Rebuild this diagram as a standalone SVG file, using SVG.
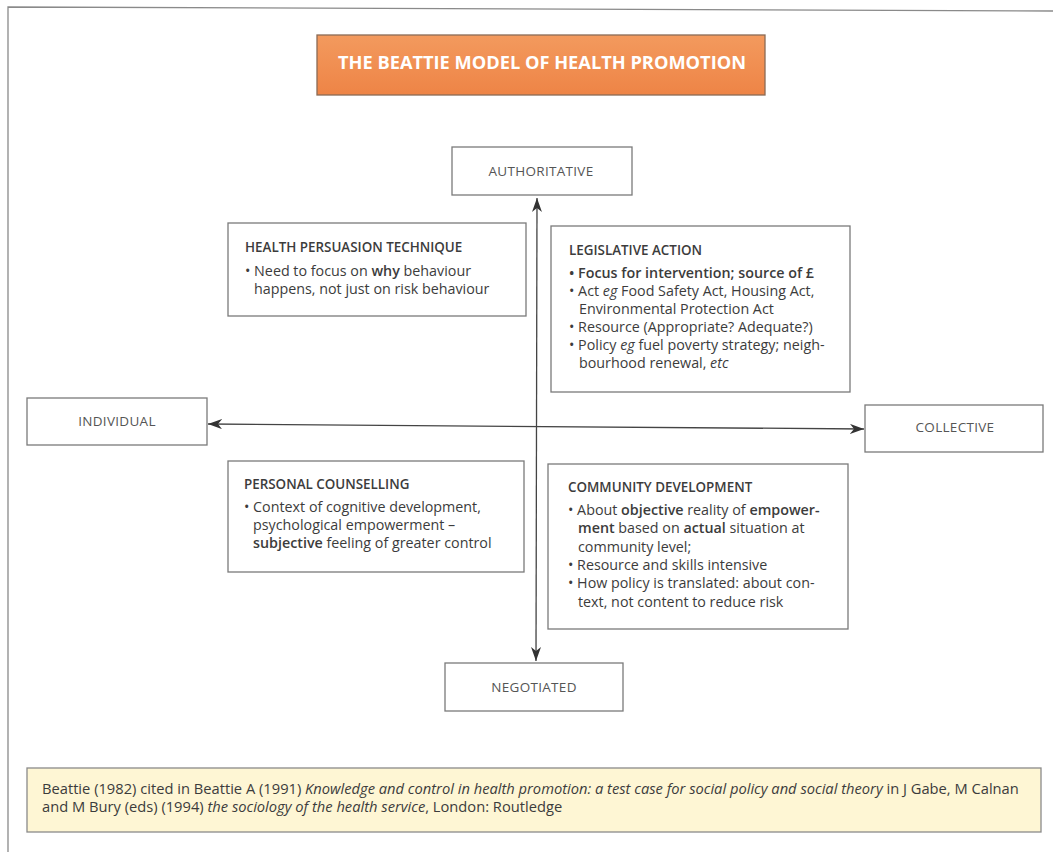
<svg xmlns="http://www.w3.org/2000/svg" width="1053" height="852" viewBox="0 0 1053 852">
<defs>
<marker id="ah" viewBox="0 0 14 10" refX="14" refY="5" markerWidth="14" markerHeight="10" markerUnits="userSpaceOnUse" orient="auto-start-reverse">
<path d="M0,0 L14,5 L0,10 L4,5 Z" fill="#333"/>
</marker>
<linearGradient id="og" x1="0" y1="0" x2="0" y2="1">
<stop offset="0" stop-color="#F39A5E"/>
<stop offset="1" stop-color="#EE8446"/>
</linearGradient>
</defs>
<style>
.bx{fill:#fff;stroke:#7a7a7a;stroke-width:1.3}
.t{font-family:"Open Sans","Noto Sans",sans-serif;fill:#3c3c3c}
.lab{font-size:13.5px;fill:#555;text-anchor:middle;letter-spacing:0.3px}
.hd{font-size:13.4px;font-weight:600}
.bd{font-size:14.3px}
.b{font-weight:600}
.i{font-style:italic}
.ft{font-size:14.7px}
</style>
<rect width="1053" height="852" fill="#fff"/>
<g id="frame" fill="none" stroke="#8a8a8a" stroke-width="1.3">
<path d="M1053,11 L8,7 L8,852"/>
</g>
<g id="title">
<rect x="317" y="35" width="448" height="60" fill="url(#og)" stroke="#8a6a55" stroke-width="1.3"/>
<text x="542" y="69" class="t" font-size="18" font-weight="700" style="fill:#fff" text-anchor="middle" textLength="408" lengthAdjust="spacingAndGlyphs">THE BEATTIE MODEL OF HEALTH PROMOTION</text>
</g>
<g id="connectors" stroke="#444" stroke-width="1.3" fill="none">
<line x1="537" y1="198" x2="536" y2="661" marker-start="url(#ah)" marker-end="url(#ah)"/>
<line x1="208" y1="424" x2="864" y2="429" marker-start="url(#ah)" marker-end="url(#ah)"/>
</g>
<g id="authoritative">
<rect class="bx" x="452" y="147" width="180" height="48"/>
<text class="t lab" x="541" y="176">AUTHORITATIVE</text>
</g>
<g id="individual">
<rect class="bx" x="27" y="398" width="180" height="47"/>
<text class="t lab" x="117" y="426">INDIVIDUAL</text>
</g>
<g id="collective">
<rect class="bx" x="865" y="405" width="178" height="47"/>
<text class="t lab" x="955" y="432">COLLECTIVE</text>
</g>
<g id="negotiated">
<rect class="bx" x="445" y="663" width="178" height="48"/>
<text class="t lab" x="534" y="692">NEGOTIATED</text>
</g>
<g id="health-persuasion">
<rect class="bx" x="228" y="223" width="298" height="93"/>
<text class="t hd" x="245" y="252">HEALTH PERSUASION TECHNIQUE</text>
<text class="t bd" x="245" y="276">• Need to focus on <tspan class="b">why</tspan> behaviour</text>
<text class="t bd" x="254" y="294">happens, not just on risk behaviour</text>
</g>
<g id="legislative">
<rect class="bx" x="551" y="226" width="299" height="166"/>
<text class="t hd" x="569" y="255">LEGISLATIVE ACTION</text>
<text class="t bd" x="569" y="278"><tspan class="b">• Focus for intervention; source of £</tspan></text>
<text class="t bd" x="569" y="296">• Act <tspan class="i">eg</tspan> Food Safety Act, Housing Act,</text>
<text class="t bd" x="579" y="314">Environmental Protection Act</text>
<text class="t bd" x="569" y="332">• Resource (Appropriate? Adequate?)</text>
<text class="t bd" x="569" y="350">• Policy <tspan class="i">eg</tspan> fuel poverty strategy; neigh-</text>
<text class="t bd" x="579" y="368">bourhood renewal, <tspan class="i">etc</tspan></text>
</g>
<g id="personal-counselling">
<rect class="bx" x="228" y="461" width="296" height="111"/>
<text class="t hd" x="244" y="489">PERSONAL COUNSELLING</text>
<text class="t bd" x="244" y="512">• Context of cognitive development,</text>
<text class="t bd" x="253" y="530">psychological empowerment –</text>
<text class="t bd" x="253" y="548"><tspan class="b">subjective</tspan> feeling of greater control</text>
</g>
<g id="community-development">
<rect class="bx" x="548" y="464" width="300" height="165"/>
<text class="t hd" x="568" y="492">COMMUNITY DEVELOPMENT</text>
<text class="t bd" x="568" y="515">• About <tspan class="b">objective</tspan> reality of <tspan class="b">empower-</tspan></text>
<text class="t bd" x="578" y="533"><tspan class="b">ment</tspan> based on <tspan class="b">actual</tspan> situation at</text>
<text class="t bd" x="578" y="552">community level;</text>
<text class="t bd" x="568" y="570">• Resource and skills intensive</text>
<text class="t bd" x="568" y="588">• How policy is translated: about con-</text>
<text class="t bd" x="578" y="607">text, not content to reduce risk</text>
</g>
<g id="footer">
<rect x="27" y="768" width="1014" height="64" fill="#FEF6D4" stroke="#8a8a8a" stroke-width="1.3"/>
<text class="t ft" x="42" y="794">Beattie (1982) cited in Beattie A (1991) <tspan class="i">Knowledge and control in health promotion: a test case for social policy and social theory</tspan> in J Gabe, M Calnan</text>
<text class="t ft" x="42" y="812">and M Bury (eds) (1994) <tspan class="i">the sociology of the health service</tspan>, London: Routledge</text>
</g>
</svg>
